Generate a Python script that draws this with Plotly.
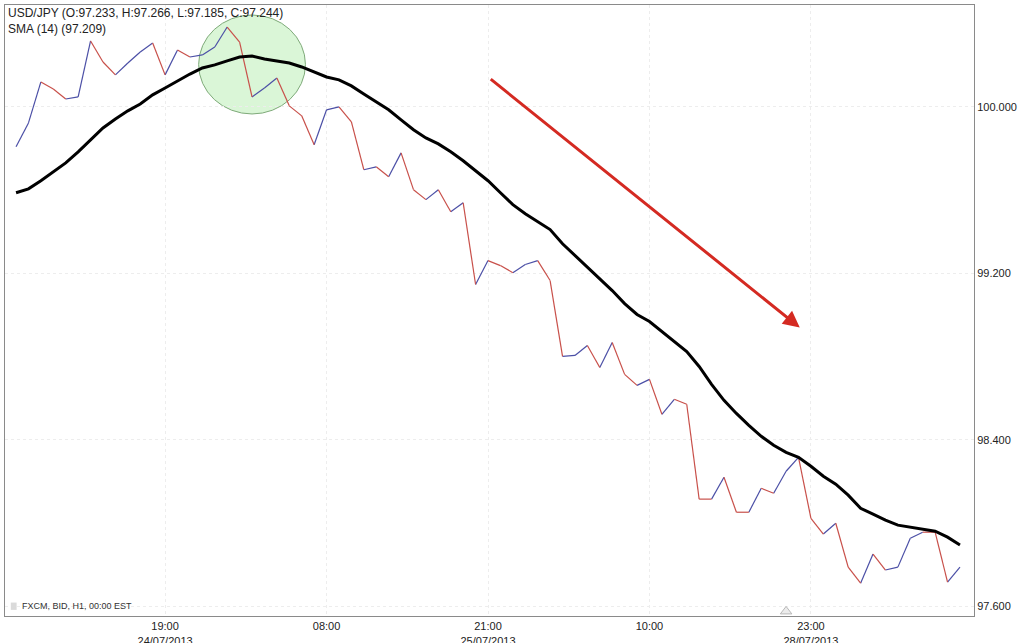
import plotly.graph_objects as go

# ---- data (hourly bars, index 0..76) ----
price = [99.808, 99.923, 100.120, 100.086, 100.038, 100.048, 100.317, 100.216, 100.154, 100.211,
         100.264, 100.307, 100.154, 100.274, 100.240, 100.250, 100.288, 100.384, 100.312, 100.048,
         100.091, 100.139, 100.005, 99.957, 99.818, 99.986, 100.000, 99.928, 99.698, 99.712,
         99.664, 99.779, 99.602, 99.554, 99.602, 99.496, 99.539, 99.146, 99.261, 99.237,
         99.203, 99.242, 99.261, 99.165, 98.800, 98.805, 98.853, 98.747, 98.867, 98.714,
         98.661, 98.690, 98.522, 98.594, 98.570, 98.114, 98.114, 98.219, 98.051, 98.051,
         98.166, 98.142, 98.248, 98.315, 98.022, 97.946, 97.998, 97.787, 97.710, 97.850,
         97.773, 97.787, 97.926, 97.955, 97.955, 97.715, 97.787]

sma = [99.587, 99.606, 99.645, 99.688, 99.731, 99.784, 99.842, 99.899, 99.942, 99.981,
       100.014, 100.058, 100.091, 100.125, 100.158, 100.187, 100.202, 100.221, 100.240, 100.245,
       100.230, 100.221, 100.211, 100.192, 100.168, 100.144, 100.130, 100.101, 100.062, 100.024,
       99.986, 99.938, 99.890, 99.851, 99.822, 99.784, 99.741, 99.693, 99.645, 99.587,
       99.530, 99.486, 99.448, 99.410, 99.342, 99.285, 99.227, 99.170, 99.117, 99.054,
       99.002, 98.968, 98.920, 98.872, 98.824, 98.752, 98.666, 98.589, 98.526, 98.469,
       98.416, 98.373, 98.339, 98.315, 98.272, 98.224, 98.186, 98.133, 98.070, 98.042,
       98.013, 97.989, 97.979, 97.970, 97.960, 97.931, 97.893]

x_tick_pos = [12, 25, 38, 51, 64]
x_tick_text = ["19:00<br>24/07/2013", "08:00", "21:00<br>25/07/2013", "10:00", "23:00<br>28/07/2013"]
y_tick_vals = [97.6, 98.4, 99.2, 100.0]
y_tick_text = ["97.600", "98.400", "99.200", "100.000"]

title_line1 = "USD/JPY (O:97.233, H:97.266, L:97.185, C:97.244)"
title_line2 = "SMA (14) (97.209)"
source_text = "FXCM, BID, H1, 00:00 EST"

FONT = "Liberation Sans, Arial, Helvetica, sans-serif"
UP = "#4b4fa6"
DOWN = "#c8504a"

idx = list(range(len(price)))

# split the close line into rising (blue) and falling (red) segments
up_x, up_y, dn_x, dn_y = [], [], [], []
for i in range(1, len(price)):
    if price[i] > price[i - 1]:
        up_x += [idx[i - 1], idx[i], None]
        up_y += [price[i - 1], price[i], None]
    else:
        dn_x += [idx[i - 1], idx[i], None]
        dn_y += [price[i - 1], price[i], None]

fig = go.Figure()
fig.add_trace(go.Scatter(x=up_x, y=up_y, mode="lines", line=dict(color=UP, width=1.2),
                         hoverinfo="skip", showlegend=False))
fig.add_trace(go.Scatter(x=dn_x, y=dn_y, mode="lines", line=dict(color=DOWN, width=1.2),
                         hoverinfo="skip", showlegend=False))
fig.add_trace(go.Scatter(x=idx, y=sma, mode="lines", line=dict(color="#000000", width=3),
                         showlegend=False))
# small marker triangle at the bottom edge
fig.add_trace(go.Scatter(x=[62], y=[97.574], mode="markers",
                         marker=dict(symbol="triangle-up", size=10, color="#ececec",
                                     line=dict(color="#b8b8b8", width=1)),
                         cliponaxis=False, showlegend=False, hoverinfo="skip"))

# green highlight circle
fig.add_shape(type="circle", xref="x", yref="y", x0=14.7, x1=23.3, y0=99.966, y1=100.442,
              fillcolor="rgba(150,230,140,0.35)", line=dict(color="#7faa7a", width=1), layer="below")

# red trend arrow
fig.add_annotation(x=63.1, y=98.939, ax=38.1, ay=100.139, xref="x", yref="y", axref="x", ayref="y",
                   showarrow=True, arrowhead=2, arrowsize=1.1, arrowwidth=3, arrowcolor="#d42a22", text="")

fig.add_annotation(x=0.0, y=1.0, xref="paper", yref="paper", xanchor="left", yanchor="top",
                   xshift=1, yshift=1, showarrow=False, align="left",
                   text=title_line1 + "<br>" + title_line2,
                   font=dict(family=FONT, size=12, color="#222222"))
fig.add_annotation(x=0.0, y=0.0, xref="paper", yref="paper", xanchor="left", yanchor="bottom",
                   xshift=15, yshift=3, showarrow=False, text=source_text,
                   font=dict(family=FONT, size=9, color="#333333"))
fig.add_shape(type="rect", xref="paper", yref="paper", x0=0.006, x1=0.012, y0=0.010, y1=0.022,
              fillcolor="#dadada", line=dict(width=0))

fig.update_layout(
    width=1024, height=643,
    margin=dict(l=5, r=50, t=5, b=27, autoexpand=False),
    paper_bgcolor="white", plot_bgcolor="white",
    font=dict(family=FONT, size=11, color="#222222"),
    showlegend=False,
)
fig.update_xaxes(range=[-0.89, 77.13], tickmode="array", tickvals=x_tick_pos, ticktext=x_tick_text,
                 automargin=False,
                 showgrid=True, gridcolor="#ededed", griddash="dot", gridwidth=1,
                 showline=True, linecolor="#8a8a8a", linewidth=1, mirror=True,
                 ticks="", zeroline=False, tickfont=dict(size=11, color="#222222"))
fig.update_yaxes(range=[97.552, 100.490], side="right", tickmode="array", tickvals=y_tick_vals,
                 ticktext=y_tick_text, automargin=False,
                 showgrid=True, gridcolor="#ededed", griddash="dot", gridwidth=1,
                 showline=True, linecolor="#8a8a8a", linewidth=1, mirror=True,
                 ticks="", zeroline=False, tickfont=dict(size=11, color="#222222"))

fig.write_html("out.html", config={"displayModeBar": False},
               post_script="document.body.style.margin='0px';")
